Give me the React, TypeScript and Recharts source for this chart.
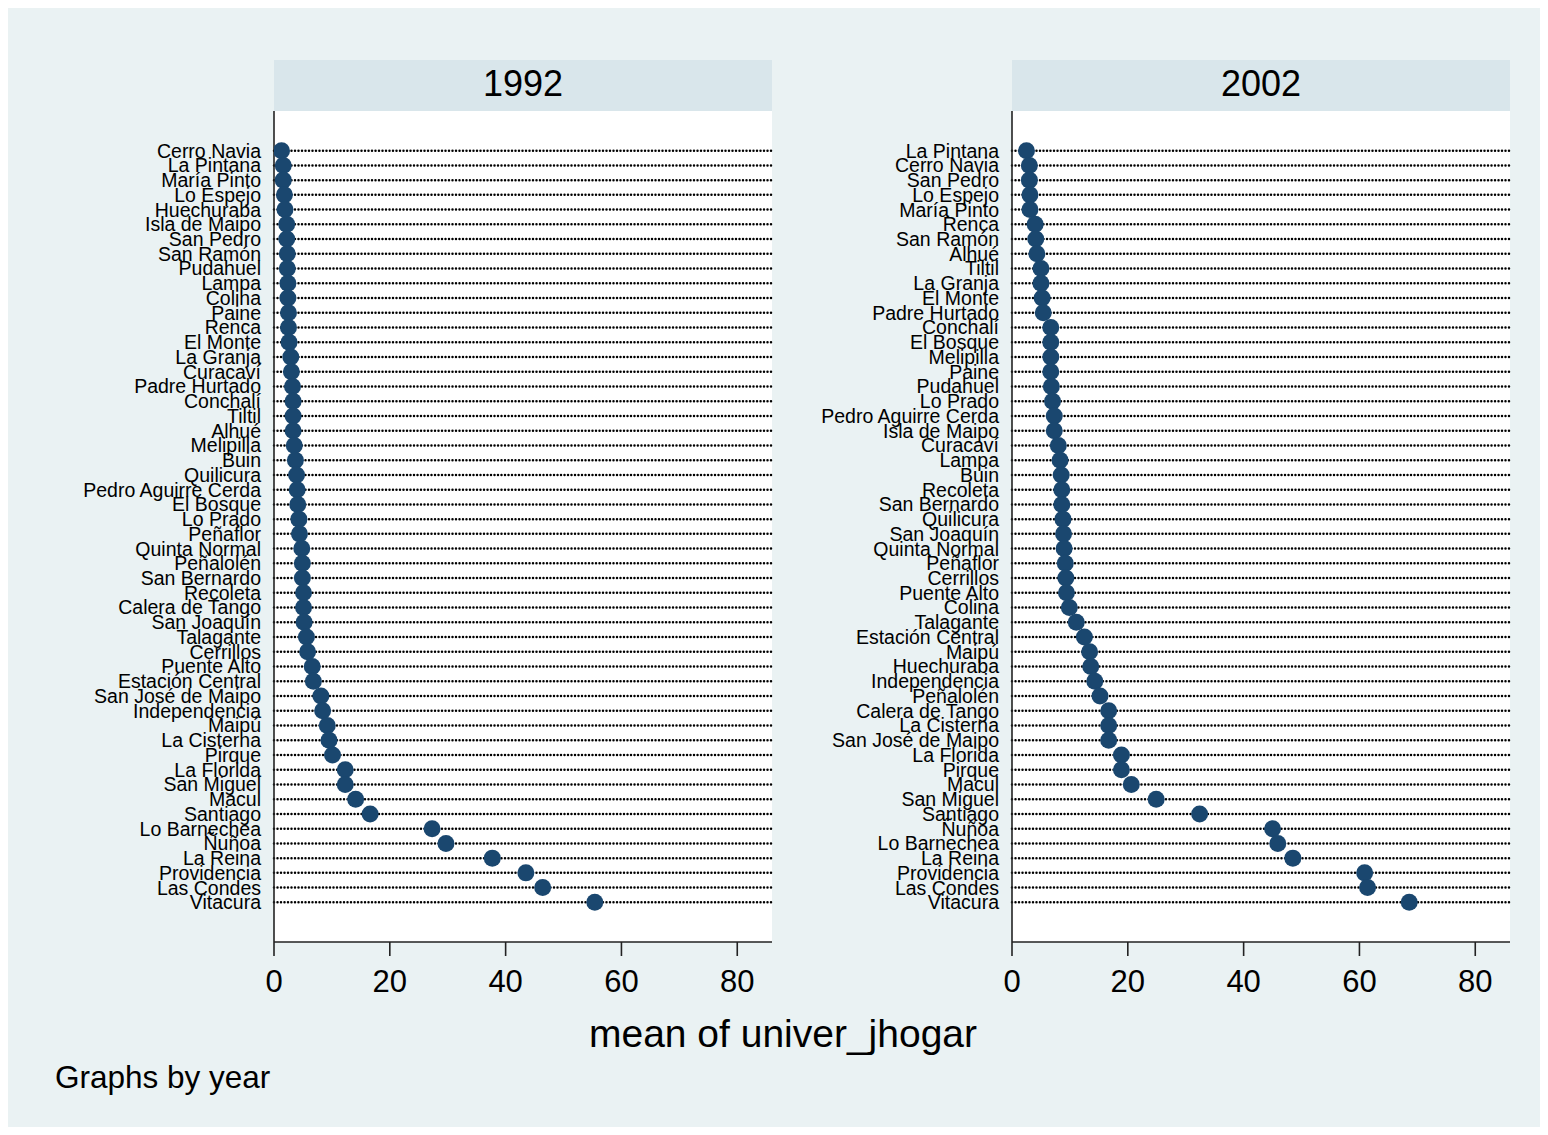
import React from 'react';
import { ScatterChart, Scatter, XAxis, YAxis, CartesianGrid } from 'recharts';

const names1992 = [
  'Cerro Navia', 'La Pintana', 'María Pinto', 'Lo Espejo', 'Huechuraba', 'Isla de Maipo',
  'San Pedro', 'San Ramón', 'Pudahuel', 'Lampa', 'Colina', 'Paine', 'Renca', 'El Monte',
  'La Granja', 'Curacaví', 'Padre Hurtado', 'Conchalí', 'Tiltil', 'Alhué', 'Melipilla',
  'Buin', 'Quilicura', 'Pedro Aguirre Cerda', 'El Bosque', 'Lo Prado', 'Peñaflor',
  'Quinta Normal', 'Peñalolén', 'San Bernardo', 'Recoleta', 'Calera de Tango',
  'San Joaquín', 'Talagante', 'Cerrillos', 'Puente Alto', 'Estación Central',
  'San José de Maipo', 'Independencia', 'Maipú', 'La Cisterna', 'Pirque', 'La Florida',
  'San Miguel', 'Macul', 'Santiago', 'Lo Barnechea', 'Ñuñoa', 'La Reina', 'Providencia',
  'Las Condes', 'Vitacura',
];
const values1992 = [
  1.3, 1.6, 1.6, 1.8, 1.9, 2.2, 2.2, 2.3, 2.3, 2.4, 2.4, 2.5, 2.5, 2.6, 2.9, 3.0, 3.2,
  3.3, 3.3, 3.3, 3.5, 3.7, 3.9, 4.0, 4.1, 4.3, 4.4, 4.8, 4.9, 4.9, 5.1, 5.1, 5.2, 5.6,
  5.8, 6.6, 6.8, 8.1, 8.4, 9.2, 9.5, 10.1, 12.3, 12.3, 14.1, 16.6, 27.3, 29.7, 37.7,
  43.5, 46.4, 55.4,
];

const names2002 = [
  'La Pintana', 'Cerro Navia', 'San Pedro', 'Lo Espejo', 'María Pinto', 'Renca',
  'San Ramón', 'Alhué', 'Tiltil', 'La Granja', 'El Monte', 'Padre Hurtado', 'Conchalí',
  'El Bosque', 'Melipilla', 'Paine', 'Pudahuel', 'Lo Prado', 'Pedro Aguirre Cerda',
  'Isla de Maipo', 'Curacaví', 'Lampa', 'Buin', 'Recoleta', 'San Bernardo', 'Quilicura',
  'San Joaquín', 'Quinta Normal', 'Peñaflor', 'Cerrillos', 'Puente Alto', 'Colina',
  'Talagante', 'Estación Central', 'Maipú', 'Huechuraba', 'Independencia', 'Peñalolén',
  'Calera de Tango', 'La Cisterna', 'San José de Maipo', 'La Florida', 'Pirque', 'Macul',
  'San Miguel', 'Santiago', 'Ñuñoa', 'Lo Barnechea', 'La Reina', 'Providencia',
  'Las Condes', 'Vitacura',
];
const values2002 = [
  2.5, 3.0, 3.0, 3.1, 3.1, 4.0, 4.1, 4.3, 5.0, 5.0, 5.2, 5.4, 6.7, 6.7, 6.7, 6.7, 6.8,
  7.0, 7.3, 7.3, 8.0, 8.3, 8.5, 8.6, 8.6, 8.8, 8.9, 9.0, 9.2, 9.3, 9.4, 9.9, 11.1, 12.5,
  13.4, 13.6, 14.3, 15.2, 16.7, 16.7, 16.7, 18.9, 18.9, 20.6, 24.9, 32.4, 45.0, 45.9,
  48.5, 60.9, 61.4, 68.6,
];

const xTicks = [0, 20, 40, 60, 80];
const years = ['1992', '2002'];
const xTitle = 'mean of univer_jhogar';
const note = 'Graphs by year';

const FONT = '"Liberation Sans", Arial, Helvetica, sans-serif';
const DOT = '#1a476f';
const Y_DOMAIN: [number, number] = [-2.69, 53.69];

const dotShape = (p: any) => <circle cx={p.cx} cy={p.cy} r={8.5} fill={DOT} />;

function Panel({ names, values, left, width, yWidth, right }: {
  names: string[]; values: number[]; left: number; width: number; yWidth: number; right: number;
}) {
  const data = values.map((v, i) => ({ value: v, row: i }));
  const rows = names.map((_, i) => i);

  // dotted guide lines only at the category rows (no lines on the plot edges)
  const rowLines = (args: any) => {
    const sc = args?.yAxis?.scale;
    if (sc && typeof sc === 'function') return rows.map((r) => sc(r));
    const off = args.offset;
    return rows.map((r) => off.top + ((r - Y_DOMAIN[0]) / (Y_DOMAIN[1] - Y_DOMAIN[0])) * off.height);
  };

  return (
    <div style={{ position: 'absolute', left, top: 0 }}>
      <ScatterChart width={width} height={1135} margin={{ top: 111, right, bottom: 133, left: 0 }}>
        <CartesianGrid
          horizontal
          vertical={false}
          horizontalCoordinatesGenerator={rowLines}
          fill="#ffffff"
          fillOpacity={1}
          stroke="#000"
          strokeWidth={2.5}
          strokeDasharray="0 3.5"
          strokeLinecap="round"
        />
        <XAxis
          type="number"
          dataKey="value"
          domain={[0, 86]}
          ticks={xTicks}
          allowDataOverflow
          height={60}
          tickSize={14}
          tickMargin={14}
          axisLine={{ stroke: '#222', strokeWidth: 1.6 }}
          tickLine={{ stroke: '#222', strokeWidth: 1.6 }}
          tick={{ fill: '#000', fontSize: 31, fontFamily: FONT }}
        />
        <YAxis
          type="number"
          dataKey="row"
          domain={Y_DOMAIN}
          allowDataOverflow
          reversed
          ticks={rows}
          interval={0}
          width={yWidth}
          tickFormatter={(i: number) => names[i]}
          tickLine={false}
          tickSize={6}
          tickMargin={7}
          axisLine={{ stroke: '#222', strokeWidth: 1.6 }}
          tick={{ fill: '#000', fontSize: 19.5, fontFamily: FONT }}
        />
        <Scatter data={data} isAnimationActive={false} shape={dotShape} />
      </ScatterChart>
    </div>
  );
}

export default function App() {
  return (
    <div style={{ position: 'relative', width: 1548, height: 1135, margin: -8, background: '#eaf2f3', overflow: 'hidden' }}>
      <svg width={1548} height={1135} style={{ position: 'absolute', left: 0, top: 0 }}>
        <rect x={274} y={60} width={498} height={51} fill="#d9e6eb" />
        <rect x={1012} y={60} width={498} height={51} fill="#d9e6eb" />
        <text x={523} y={96} textAnchor="middle" fontSize={36} fontFamily={FONT} fill="#000">{years[0]}</text>
        <text x={1261} y={96} textAnchor="middle" fontSize={36} fontFamily={FONT} fill="#000">{years[1]}</text>
        <text x={783} y={1047} textAnchor="middle" fontSize={39} fontFamily={FONT} fill="#000">{xTitle}</text>
        <text x={55} y={1088} fontSize={31.5} fontFamily={FONT} fill="#000">{note}</text>
      </svg>
      <Panel names={names1992} values={values1992} left={0} width={790} yWidth={274} right={18} />
      <Panel names={names2002} values={values2002} left={780} width={750} yWidth={232} right={20} />
    </div>
  );
}
